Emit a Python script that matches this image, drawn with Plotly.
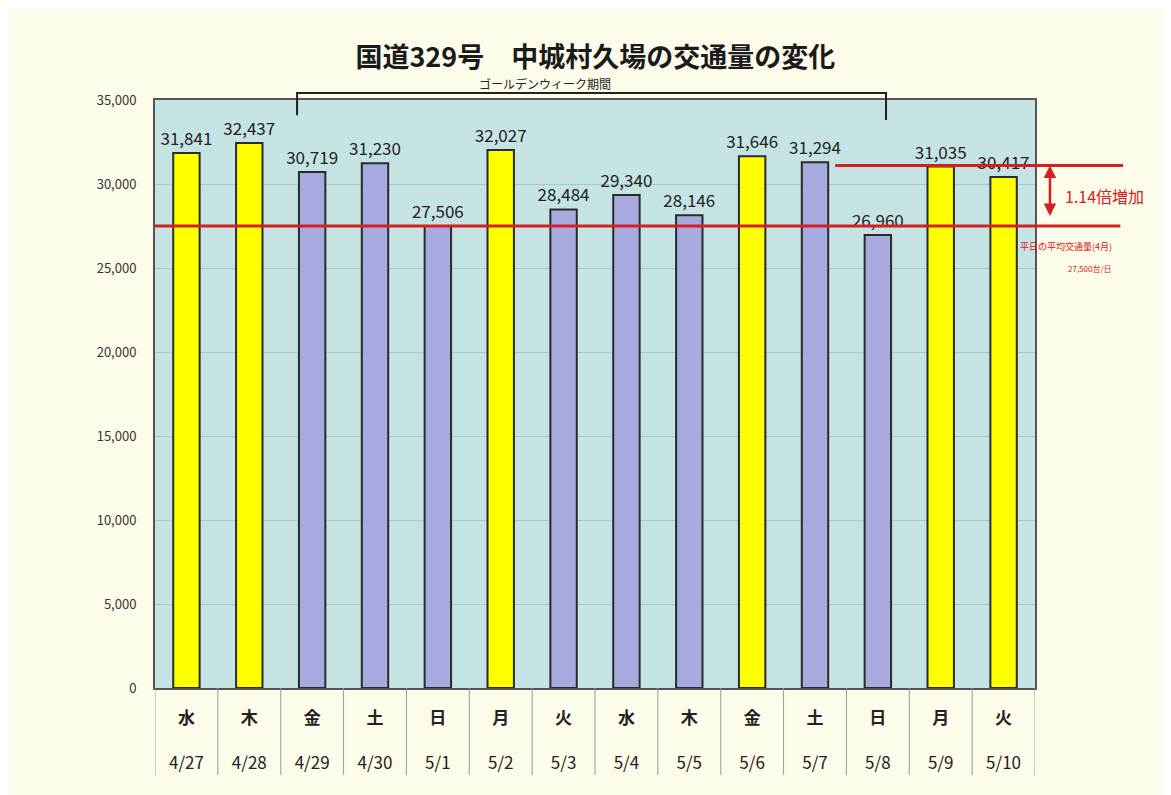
import plotly.graph_objects as go

# daily traffic on route 329 (Nakagusuku / Kuba)
weekdays = ['水', '木', '金', '土', '日', '月', '火', '水', '木', '金', '土', '日', '月', '火']
dates = ['4/27', '4/28', '4/29', '4/30', '5/1', '5/2', '5/3', '5/4', '5/5', '5/6', '5/7', '5/8', '5/9', '5/10']
traffic = [31841, 32437, 30719, 31230, 27506, 32027, 28484, 29340, 28146, 31646, 31294, 26960, 31035, 30417]
is_workday = [True, True, False, False, False, True, False, False, False, True, False, False, True, True]

avg_weekday = 27500      # April weekday average
high_level = 31100       # level marked as 1.14x

FONT = 'Noto Sans CJK JP'
YELLOW = '#ffff00'
LAVENDER = '#a7aadf'
RED = '#d42020'

x = list(range(len(traffic)))
colors = [YELLOW if w else LAVENDER for w in is_workday]
labels = [f'{v:,}' for v in traffic]

fig = go.Figure()
fig.add_trace(go.Bar(
    x=x, y=traffic,
    marker=dict(color=colors, line=dict(color='#2a2a2a', width=2)),
    width=0.42,
    text=labels, textposition='outside', cliponaxis=False,
    constraintext='none',
    textfont=dict(family=FONT, size=17, color='#222222'),
))

shapes = []
# table separators below the plot
for i in range(len(x) + 1):
    shapes.append(dict(type='line', xref='x', yref='paper',
                       x0=i - 0.5, x1=i - 0.5, y0=0, y1=-0.148,
                       line=dict(color='#9a9a9a', width=1)))
# red reference lines
shapes.append(dict(type='line', xref='paper', yref='y',
                   x0=0, x1=1.097, y0=avg_weekday, y1=avg_weekday,
                   line=dict(color=RED, width=3)))
shapes.append(dict(type='line', xref='paper', yref='y',
                   x0=0.773, x1=1.10, y0=high_level, y1=high_level,
                   line=dict(color=RED, width=3)))
# golden week bracket
shapes.append(dict(type='path', xref='x', yref='paper',
                   path='M 1.76,0.974 L 1.76,1.012 L 11.13,1.012 L 11.13,0.966',
                   line=dict(color='#222222', width=2)))

annotations = [
    dict(text='ゴールデンウィーク期間', xref='x', yref='paper', x=5.7, y=1.028,
         yanchor='middle', showarrow=False,
         font=dict(family=FONT, size=12, color='#222222')),
    dict(text='', xref='paper', yref='y', x=1.017, y=high_level,
         ax=0, ay=52, showarrow=True, arrowhead=2, arrowside='end+start',
         arrowsize=1, arrowwidth=2.5, arrowcolor=RED),
    dict(text='1.14倍増加', xref='paper', yref='y', x=1.032, y=29300,
         xanchor='left', showarrow=False,
         font=dict(family=FONT, size=16, color=RED)),
    dict(text='平日の平均交通量(4月)', xref='paper', yref='y', x=1.09, y=26300,
         showarrow=False, font=dict(family=FONT, size=9, color=RED)),
    dict(text='27,500台/日', xref='paper', yref='y', x=1.09, y=25000,
         showarrow=False, font=dict(family=FONT, size=8, color=RED)),
]

fig.update_layout(
    width=1163, height=787,
    margin=dict(l=147, r=136, t=92, b=107),
    paper_bgcolor='#fdfcea',
    plot_bgcolor='#c6e3e3',
    showlegend=False,
    title=dict(text='<b>国道329号　中城村久場の交通量の変化</b>',
               x=0.505, xanchor='center', y=0.937, yanchor='middle',
               font=dict(family=FONT, size=27, color='#1a1a1a')),
    xaxis=dict(
        range=[-0.5, len(x) - 0.5],
        tickvals=x,
        ticktext=[f'<b>{w}</b><br><br>{d}' for w, d in zip(weekdays, dates)],
        ticks='', ticklabelstandoff=14,
        tickfont=dict(family=FONT, size=17, color='#222222'),
        showline=True, linecolor='#555555', linewidth=2, mirror=True,
        showgrid=False,
    ),
    yaxis=dict(
        range=[0, 35000], dtick=5000, tickformat=',',
        tickfont=dict(family=FONT, size=13, color='#333333'),
        gridcolor='#a8c8c8', gridwidth=1,
        showline=True, linecolor='#555555', linewidth=2, mirror=True,
        zeroline=False, ticks='', ticklabelstandoff=14,
    ),
    shapes=shapes,
    annotations=annotations,
)

fig.write_html('out.html')
